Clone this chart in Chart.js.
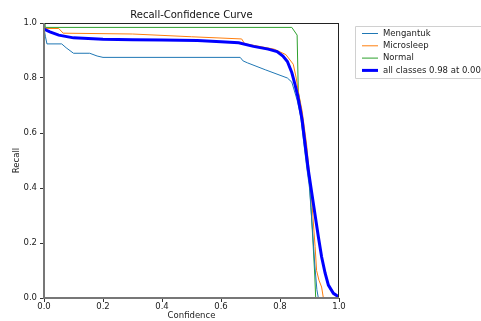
<!DOCTYPE html>
<html>
<head>
<meta charset="utf-8">
<script src="https://cdn.jsdelivr.net/npm/chart.js@4/dist/chart.umd.min.js"></script>
<style>
  html, body { margin: 0; padding: 0; background: #fff; }
  #wrap { width: 481px; height: 321px; }
</style>
</head>
<body>
<div id="wrap"><canvas id="rc-chart" width="481" height="321"></canvas></div>
<script>
// values (confidence -> recall)
const seriesNames = ['Mengantuk', 'Microsleep', 'Normal', 'all classes 0.98 at 0.000'];
const seriesColors = ['#1f77b4', '#ff7f0e', '#2ca02c', '#0000ff'];

const confMengantuk = [0, 0.005, 0.01, 0.06, 0.075, 0.1, 0.155, 0.18, 0.2, 0.665, 0.675, 0.69, 0.75, 0.825, 0.84, 0.858, 0.87, 0.88, 0.89, 0.9, 0.91, 0.918, 0.925, 0.93];
const recallMengantuk = [0.98, 0.95, 0.924, 0.924, 0.91, 0.89, 0.89, 0.88, 0.875, 0.875, 0.862, 0.855, 0.83, 0.80, 0.785, 0.72, 0.66, 0.57, 0.48, 0.40, 0.25, 0.12, 0.03, 0];

const confMicrosleep = [0, 0.005, 0.05, 0.065, 0.3, 0.5, 0.67, 0.68, 0.78, 0.82, 0.845, 0.855, 0.862, 0.875, 0.89, 0.905, 0.919, 0.924, 0.932, 0.941, 0.947];
const recallMicrosleep = [0.99, 0.98, 0.98, 0.963, 0.96, 0.95, 0.942, 0.925, 0.905, 0.885, 0.85, 0.80, 0.75, 0.68, 0.56, 0.393, 0.187, 0.10, 0.065, 0.04, 0];

const confNormal = [0, 0.003, 0.84, 0.858, 0.862, 0.87, 0.88, 0.89, 0.898, 0.905, 0.912, 0.918, 0.921];
const recallNormal = [1.0, 0.984, 0.984, 0.956, 0.75, 0.70, 0.6, 0.52, 0.45, 0.33, 0.2, 0.08, 0];

const confAll = [0, 0.02, 0.05, 0.1, 0.2, 0.3, 0.4, 0.52, 0.6, 0.66, 0.71, 0.76, 0.79, 0.81, 0.825, 0.84, 0.85, 0.86, 0.868, 0.875, 0.885, 0.896, 0.913, 0.93, 0.941, 0.953, 0.964, 0.981, 0.998, 1.0];
const recallAll = [0.978, 0.968, 0.956, 0.946, 0.941, 0.939, 0.938, 0.936, 0.932, 0.928, 0.915, 0.905, 0.896, 0.88, 0.86, 0.82, 0.78, 0.735, 0.69, 0.647, 0.56, 0.466, 0.344, 0.223, 0.15, 0.09, 0.047, 0.017, 0.005, 0];

const tickValues = [0, 0.2, 0.4, 0.6, 0.8, 1.0];

const FONT = 'DejaVu Sans';

function toPoints(xs, ys) {
    return xs.map((x, i) => ({ x: x, y: ys[i] }));
}

const allConf = [confMengantuk, confMicrosleep, confNormal, confAll];
const allRecall = [recallMengantuk, recallMicrosleep, recallNormal, recallAll];

const datasets = seriesNames.map((name, i) => {
    const isAll = i === 3;
    return {
        label: name,
        data: toPoints(allConf[i], allRecall[i]),
        borderColor: seriesColors[i],
        backgroundColor: seriesColors[i],
        borderWidth: isAll ? 3 : 1,
        pointRadius: 0,
        tension: 0,
        fill: false,
        order: isAll ? 0 : 1
    };
});

// title, frame and legend drawn the matplotlib way
const titlePlugin = {
    id: 'titlePlugin',
    afterDraw(chart) {
        const { ctx, chartArea } = chart;
        ctx.save();
        ctx.fillStyle = '#111';
        ctx.font = '10px "' + FONT + '"';
        ctx.textAlign = 'center';
        ctx.textBaseline = 'middle';
        ctx.fillText('Recall-Confidence Curve', (chartArea.left + chartArea.right) / 2, 15);
        ctx.restore();
    }
};

const framePlugin = {
    id: 'framePlugin',
    afterDatasetsDraw(chart) {
        const { ctx, chartArea } = chart;
        const l = chartArea.left, r = chartArea.right, t = chartArea.top, b = chartArea.bottom;
        ctx.save();
        ctx.strokeStyle = '#222';
        ctx.lineWidth = 1;
        ctx.beginPath();
        ctx.moveTo(l, t + 0.5); ctx.lineTo(r, t + 0.5);
        ctx.moveTo(r - 0.5, t); ctx.lineTo(r - 0.5, b);
        ctx.stroke();
        ctx.strokeStyle = '#777';
        ctx.lineWidth = 2;
        ctx.beginPath();
        ctx.moveTo(l, t); ctx.lineTo(l, b);
        ctx.moveTo(l - 1, b); ctx.lineTo(r, b);
        ctx.stroke();
        ctx.restore();
    }
};

const legendPlugin = {
    id: 'legendPlugin',
    afterDraw(chart) {
        const ctx = chart.ctx;
        ctx.save();
        ctx.fillStyle = 'rgba(255,255,255,0.8)';
        ctx.strokeStyle = '#d0d0d0';
        ctx.lineWidth = 1;
        ctx.beginPath();
        ctx.rect(355.5, 26.5, 140, 52);
        ctx.fill();
        ctx.stroke();
        ctx.font = '8.5px "' + FONT + '"';
        ctx.textBaseline = 'middle';
        ctx.textAlign = 'left';
        chart.data.datasets.forEach((ds, i) => {
            const y = 33.5 + i * 12.3;
            ctx.strokeStyle = ds.borderColor;
            ctx.lineWidth = ds.borderWidth;
            ctx.beginPath();
            ctx.moveTo(362, y);
            ctx.lineTo(378, y);
            ctx.stroke();
            ctx.fillStyle = '#222';
            ctx.fillText(ds.label, 383, y);
        });
        ctx.restore();
    }
};

const ctx = document.getElementById('rc-chart').getContext('2d');
new Chart(ctx, {
    type: 'line',
    data: { datasets: datasets },
    options: {
        responsive: false,
        animation: false,
        parsing: true,
        layout: { padding: { top: 23, right: 142, left: 0, bottom: 0 } },
        plugins: {
            legend: { display: false },
            tooltip: { enabled: false },
            title: { display: false }
        },
        scales: {
            x: {
                type: 'linear',
                min: 0,
                max: 1,
                afterFit(scale) { scale.height = 23; },
                afterBuildTicks(scale) { scale.ticks = tickValues.map(v => ({ value: v })); },
                border: { display: false },
                grid: { display: true, drawOnChartArea: false, drawTicks: true, tickLength: 4, color: '#333' },
                ticks: {
                    padding: 0,
                    color: '#222',
                    maxRotation: 0,
                    font: { family: FONT, size: 8.5 },
                    callback: v => v.toFixed(1)
                },
                title: {
                    display: true,
                    text: 'Confidence',
                    color: '#222',
                    padding: { top: 0, bottom: 0 },
                    font: { family: FONT, size: 8.5 }
                }
            },
            y: {
                type: 'linear',
                min: 0,
                max: 1,
                afterFit(scale) { scale.width = 44; },
                afterBuildTicks(scale) { scale.ticks = tickValues.map(v => ({ value: v })); },
                border: { display: false },
                grid: { display: true, drawOnChartArea: false, drawTicks: true, tickLength: 4, color: '#333' },
                ticks: {
                    padding: 3,
                    color: '#222',
                    font: { family: FONT, size: 8.5 },
                    callback: v => v.toFixed(1)
                },
                title: {
                    display: true,
                    text: 'Recall',
                    color: '#222',
                    padding: { top: 12, bottom: 0 },
                    font: { family: FONT, size: 8.5 }
                }
            }
        }
    },
    plugins: [titlePlugin, framePlugin, legendPlugin]
});
</script>
</body>
</html>
